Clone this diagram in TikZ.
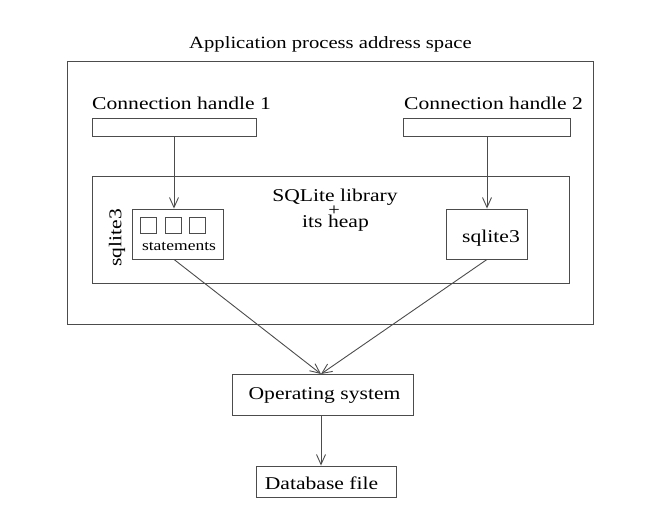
\documentclass[tikz,border=0pt]{standalone}
\usepackage{fontspec}
\setmainfont[FakeStretch=1.2]{Liberation Serif}
\usetikzlibrary{arrows.meta}
\begin{document}
\begin{tikzpicture}[x=1pt,y=-1pt,
  box/.style={draw=black!70, line width=0.9pt, inner sep=0pt, minimum width=#1},
  lbl/.style={inner sep=0pt, anchor=base, font=\fontsize{18}{20}\selectfont},
  conn/.style={draw=black!70, line width=0.9pt, -{Straight Barb[length=10pt,width=9pt]}},
  plain/.style={draw=black!70, line width=0.9pt}]
\useasboundingbox (0,0) rectangle (667,519);
% outer boxes
\node[box=526pt, minimum height=263pt] (outer) at (330,192.5) {};
\node[box=477pt, minimum height=107pt] (inner) at (330.5,229.5) {};
% title
\node[lbl, font=\fontsize{17.2}{20}\selectfont] (title) at (330.5,49) {Application process address space};
% handles
\node[lbl, anchor=base west] (h1lbl) at (92,110) {Connection handle 1};
\node[lbl, anchor=base west] (h2lbl) at (404,110) {Connection handle 2};
\node[box=164pt, minimum height=18pt] (h1) at (174,127) {};
\node[box=167pt, minimum height=18pt] (h2) at (486.5,127) {};
% SQLite text
\node[lbl] (lib) at (335,201) {SQLite library};
\node[inner sep=0pt, font=\fontsize{17}{18}\selectfont] (plus) at (334,210.5) {+};
\node[lbl] (heap) at (335.5,227) {its heap};
% statements box
\node[box=91pt, minimum height=50pt] (stmt) at (177.5,234) {};
\node[box=16pt, minimum height=16pt] (s1) at (148.5,225.5) {};
\node[box=16pt, minimum height=16pt] (s2) at (173.5,225.5) {};
\node[box=16pt, minimum height=16pt] (s3) at (197.5,225.5) {};
\node[lbl, font=\fontsize{14.6}{17}\selectfont] (stlbl) at (179,250) {statements};
\node[inner sep=0pt, rotate=90, font=\fontsize{18}{20}\selectfont] (sq1) at (117,238) {sqlite3};
% sqlite3 right
\node[box=81pt, minimum height=50pt] (sq2) at (486.5,234) {};
\node[lbl] (sq2lbl) at (491,242) {sqlite3};
% OS and DB
\node[box=181pt, minimum height=41pt] (os) at (322.5,394.5) {};
\node[lbl] (oslbl) at (324.5,399) {Operating system};
\node[box=140pt, minimum height=31pt] (db) at (326,481.5) {};
\node[lbl] (dblbl) at (321.5,489) {Database file};
% connectors
\coordinate (a1) at (174,136);
\draw[conn] (a1) -- (a1 |- stmt.north);
\coordinate (a2) at (487,136);
\draw[conn] (a2) -- (a2 |- sq2.north);
\coordinate (osin) at (321,374);
\draw[conn] (a1 |- stmt.south) -- (osin);
\draw[conn] (a2 |- sq2.south) -- (osin);
\coordinate (osout) at (321,415);
\draw[conn] (osout) -- (osout |- db.north);
\end{tikzpicture}
\end{document}
